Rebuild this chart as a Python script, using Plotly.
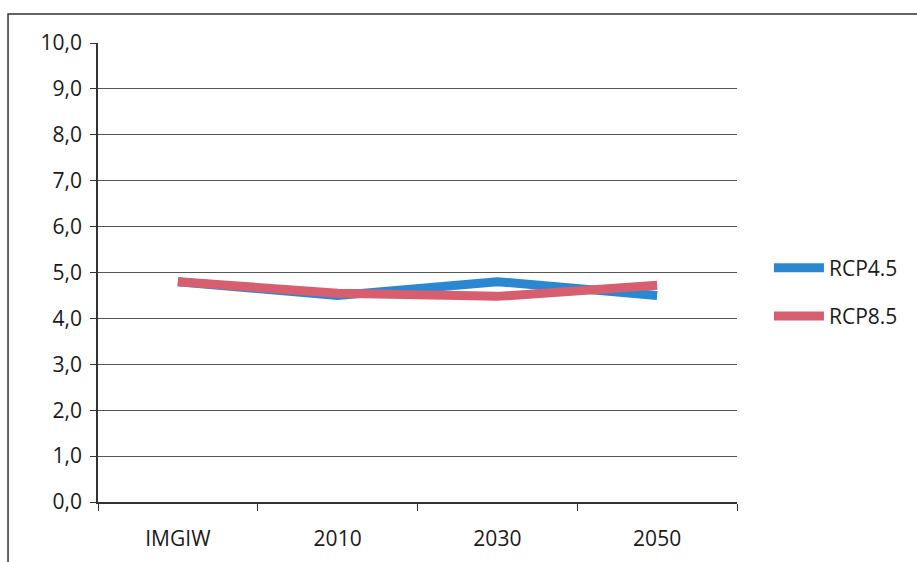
import plotly.graph_objects as go

# Categories and series values
categories = ["IMGIW", "2010", "2030", "2050"]
rcp45 = [4.8, 4.5, 4.8, 4.5]
rcp85 = [4.8, 4.55, 4.48, 4.72]
y_ticks = [0, 1, 2, 3, 4, 5, 6, 7, 8, 9, 10]

blue = "#2a88d3"
red = "#d75e6f"
font = "Open Sans, Liberation Sans, sans-serif"

fig = go.Figure()
fig.add_trace(go.Scatter(
    x=categories, y=rcp45, mode="lines", name="RCP4.5",
    line=dict(color=blue, width=9), legendgroup="a",
))
fig.add_trace(go.Scatter(
    x=categories, y=rcp85, mode="lines", name="RCP8.5",
    line=dict(color=red, width=9), legendgroup="b",
))

# Outer chart frame (top and left edges visible)
fig.add_shape(type="rect", xref="paper", yref="paper",
              x0=-0.1408, x1=1.3, y0=-0.16, y1=1.0632,
              line=dict(color="#333333", width=1.5), layer="below")

fig.update_layout(
    width=917, height=562,
    margin=dict(l=98, r=180, t=43, b=60, autoexpand=False),
    paper_bgcolor="white", plot_bgcolor="white",
    separators=",.",
    font=dict(family=font, size=21, color="#1a1a1a"),
    showlegend=True,
    legend=dict(x=1.05, y=0.4575, xanchor="left", yanchor="middle",
                itemwidth=50, tracegroupgap=18,
                font=dict(size=21, color="#1a1a1a"),
                bgcolor="rgba(0,0,0,0)"),
    xaxis=dict(
        type="category", range=[-0.5, 3.5], automargin=False,
        tickson="boundaries", ticks="outside", ticklen=7,
        tickcolor="#333333", showline=True, linecolor="#333333",
        linewidth=1.5, showgrid=False, ticklabelstandoff=17,
        tickfont=dict(size=21),
    ),
    yaxis=dict(
        range=[0, 10], tickvals=y_ticks, tickformat=".1f", automargin=False,
        ticks="outside", ticklen=6, tickcolor="#333333",
        showline=True, linecolor="#333333", linewidth=1.5,
        showgrid=True, gridcolor="#555555", gridwidth=1.2,
        zeroline=False, tickfont=dict(size=21), ticklabelstandoff=4,
    ),
)

fig.write_html("out.html")
